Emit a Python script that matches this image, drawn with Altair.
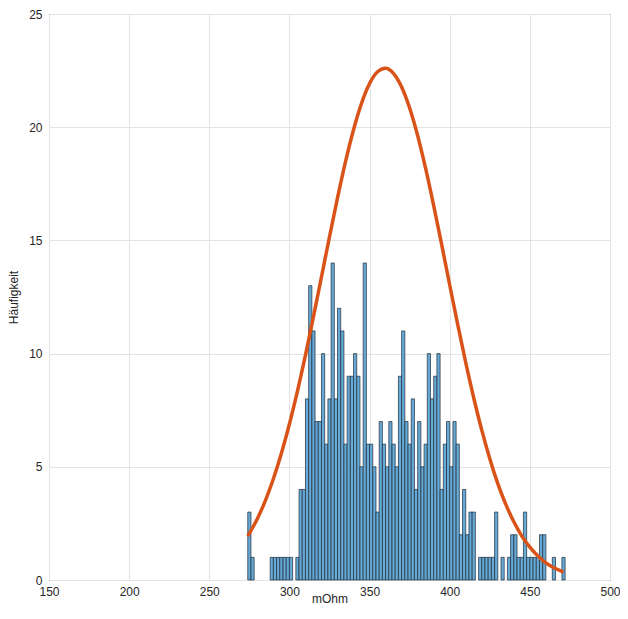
import altair as alt
import pandas as pd

# Histogram: bins of width 2 starting at 274 (mOhm), counts
bin_start = 274
bin_width = 2
counts = [
    3, 1, 0, 0, 0, 0, 0, 1, 1, 1,
    1, 1, 1, 1, 0, 1, 4, 4, 8, 13,
    11, 7, 7, 10, 6, 8, 14, 8, 12, 11,
    6, 9, 9, 10, 9, 5, 14, 6, 6, 5,
    3, 7, 6, 5, 7, 6, 5, 9, 11, 7,
    6, 8, 4, 7, 5, 6, 10, 8, 9, 10,
    4, 6, 7, 5, 7, 6, 2, 4, 2, 3,
    3, 0, 1, 1, 1, 1, 1, 3, 0, 1,
    0, 1, 2, 2, 1, 1, 3, 1, 1, 1,
    1, 2, 2, 0, 0, 1, 0, 0, 1,
]

# Fitted curve
curve_x = [274, 280, 285, 290, 295, 300, 305, 310, 315, 320, 325, 330, 335, 340,
           345, 350, 355, 360, 365, 370, 375, 380, 385, 390, 395, 400, 405, 410,
           415, 420, 425, 430, 435, 440, 445, 450, 455, 460, 465, 470, 471]
curve_y = [1.94, 2.71, 3.51, 4.47, 5.60, 6.89, 8.34, 9.93, 11.63, 13.39, 15.16,
           16.88, 18.48, 19.89, 21.06, 21.93, 22.45, 22.60, 22.37, 21.78, 20.85,
           19.63, 18.17, 16.54, 14.81, 13.03, 11.28, 9.60, 8.04, 6.62, 5.36, 4.26,
           3.34, 2.57, 1.94, 1.45, 1.06, 0.76, 0.54, 0.38, 0.35]

x_ticks = [150, 200, 250, 300, 350, 400, 450, 500]
y_ticks = [0, 5, 10, 15, 20, 25]

lo = [bin_start + i * bin_width for i in range(len(counts))]
hi = [v + bin_width for v in lo]
bars_df = pd.DataFrame({"lo": lo, "hi": hi, "n": counts})
bars_df = bars_df[bars_df["n"] > 0]
curve_df = pd.DataFrame({"x": curve_x, "y": curve_y})

FONT = "Liberation Sans"
TXT = "#262626"

xscale = alt.Scale(domain=[150, 500], nice=False, zero=False)
yscale = alt.Scale(domain=[0, 25], nice=False)

xaxis = alt.Axis(values=x_ticks, title="mOhm", labelPadding=6,
                 labelFlush=False, labelOverlap=False,
                 titleY=18, titleBaseline="middle")
yaxis = alt.Axis(values=y_ticks, title="Häufigkeit", labelPadding=7,
                 labelFlush=False, labelOverlap=False, titlePadding=8)

bars = alt.Chart(bars_df).mark_bar(
    fill="#66AAD7", stroke="#1f2a36", strokeWidth=0.7
).encode(
    x=alt.X("lo:Q", scale=xscale, axis=xaxis),
    x2="hi:Q",
    y=alt.Y("n:Q", scale=yscale, axis=yaxis),
    y2=alt.datum(0),
)

line = alt.Chart(curve_df).mark_line(
    color="#D95319", strokeWidth=3.5, interpolate="monotone"
).encode(
    x=alt.X("x:Q", scale=xscale),
    y=alt.Y("y:Q", scale=yscale),
)

chart = alt.layer(bars, line).properties(
    width=561,
    height=566,
    autosize=alt.AutoSizeParams(type="none"),
    padding={"left": 41, "top": 6, "right": 10, "bottom": 31},
).configure_view(
    stroke=TXT, strokeWidth=1
).configure_axis(
    grid=True, gridColor="#e3e3e3", gridWidth=1,
    domain=False, ticks=False,
    labelFont=FONT, labelFontSize=12, labelColor=TXT,
    titleFont=FONT, titleFontSize=12, titleFontWeight="normal", titleColor=TXT,
)

chart.save("out.html", embed_options={"renderer": "svg", "actions": False})
